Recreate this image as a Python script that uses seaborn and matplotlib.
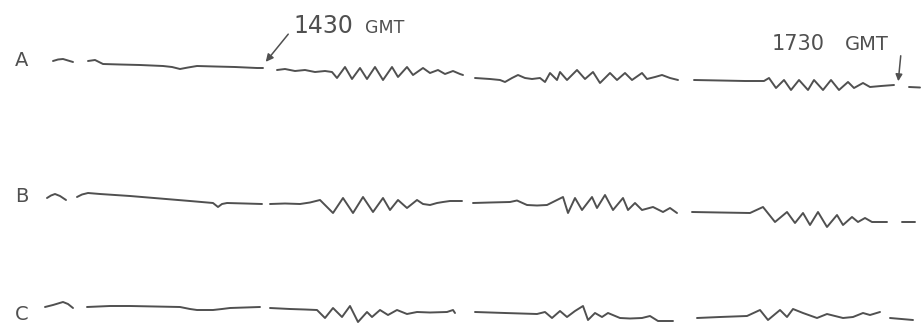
import numpy as np
import pandas as pd
import matplotlib
matplotlib.use("Agg")
import matplotlib.pyplot as plt
import seaborn as sns

nan = np.nan

# hand traced record, x = position along the record, y = pen position (down is positive)
trace_labels = ["A", "B", "C"]

trace_a_x = [53, 58, 63, 68, 73, nan,
             88, 95, 103, 120, 140, 163, 172, 180, 188, 197, 215, 235, 257, 263, nan,
             277, 285, 295, 305, 315, 325, 332, 337, 345, 352, 360, 367, 375, 383, 392, 398, 407,
             413, 423, 430, 438, 445, 453, 460, 463, nan,
             475, 490, 500, 505, 512, 518, 525, 532, 540, 545, 550, 557, 560, 567, 577, 585, 593,
             600, 610, 617, 625, 632, 642, 647, 655, 662, 670, 678, nan,
             694, 720, 745, 764, 769, 776, 784, 791, 799, 808, 814, 823, 831, 839, 848, 854, 863,
             870, 881, 894, nan,
             909, 920]
trace_a_y = [61, 59.5, 59, 60.5, 62, nan,
             61, 60, 64, 64.5, 65, 66, 67, 69, 67.5, 66, 66.5, 67, 68, 68, nan,
             70, 69, 71, 70, 72, 71, 72, 78, 67, 79, 68, 79, 67, 80, 67, 77, 67,
             75, 68, 73, 70, 74, 71, 74, 75, nan,
             78, 79, 80, 82, 78, 75, 78, 79, 78, 82, 73, 80, 72, 80, 70, 79, 72,
             83, 73, 80, 73, 80, 73, 79, 77, 75, 78, 80, nan,
             80, 80.5, 81, 81, 78, 88, 80, 90, 80, 90, 80, 90, 80, 90, 82, 88, 83,
             87, 86, 85, nan,
             87, 87.5]

trace_b_x = [47, 51, 55, 60, 66, nan,
             77, 82, 88, 100, 130, 160, 190, 213, 218, 222, 227, 245, 262, nan,
             270, 285, 300, 310, 320, 333, 343, 353, 363, 373, 383, 390, 398, 407, 417, 423, 430,
             437, 443, 450, 462, nan,
             473, 490, 510, 517, 527, 537, 547, 557, 563, 568, 575, 582, 592, 597, 605, 613, 623,
             628, 635, 642, 653, 663, 670, 677, nan,
             692, 720, 750, 763, 775, 787, 795, 803, 810, 818, 827, 837, 843, 852, 858, 865, 872,
             887, nan,
             902, 915]
trace_b_y = [198, 195.5, 194, 196, 200, nan,
             197, 194.5, 193, 194, 196, 198.5, 201, 203, 207, 204, 203, 203.5, 204, nan,
             204, 203.5, 204, 202.5, 200, 213, 198, 213, 197, 212, 198, 210, 200, 208, 200, 204, 205,
             203, 202, 201, 201, nan,
             203, 202.5, 202, 200.5, 205, 205.5, 205, 200, 197, 213, 198, 210, 197, 208, 195, 210, 198,
             210, 203, 210, 207, 212, 208, 213, nan,
             212, 212.5, 213, 207, 222, 212, 223, 213, 225, 212, 227, 215, 225, 217, 222, 218, 222,
             222, nan,
             222, 222]

trace_c_x = [45, 53, 63, 68, 73, nan,
             87, 110, 130, 155, 180, 190, 197, 213, 222, 230, 245, 260, nan,
             270, 280, 290, 305, 317, 325, 333, 342, 350, 358, 367, 372, 380, 388, 397, 407, 417,
             430, 447, 453, 455, nan,
             475, 505, 537, 545, 552, 560, 567, 575, 583, 588, 595, 602, 608, 620, 630, 642, 650,
             658, 673, nan,
             697, 720, 747, 760, 768, 780, 787, 793, 803, 817, 827, 843, 853, 863, 870, 880, nan,
             890, 913]
trace_c_y = [307, 305, 302, 304, 308, nan,
             307, 306, 306, 306.5, 307, 309, 310, 310, 309, 308, 307.5, 307, nan,
             308, 308.5, 309, 309.5, 310, 318, 308, 317, 306, 322, 312, 317, 310, 315, 310, 314, 312,
             312.5, 312, 310, 313, nan,
             312, 313, 314, 312, 318, 311, 317, 311, 306, 320, 313, 317, 313, 318, 318.5, 318, 316,
             321, 321, nan,
             318, 317, 316, 310, 320, 310, 317, 309, 313, 318, 314, 318, 317, 313, 315, 312, nan,
             318, 320]

ink = "#505050"


def trace_frame(name, xs, ys):
    df = pd.DataFrame({"x": xs, "y": ys})
    df["piece"] = name + df["y"].isna().cumsum().astype(str)
    return df.dropna()


record = pd.concat([
    trace_frame("A", trace_a_x, trace_a_y),
    trace_frame("B", trace_b_x, trace_b_y),
    trace_frame("C", trace_c_x, trace_c_y),
], ignore_index=True)

sns.set_theme(style="white")
plt.rcParams["font.family"] = ["DejaVu Sans"]

fig = plt.figure(figsize=(9.21, 3.23), dpi=100)
ax = fig.add_axes([0, 0, 1, 1])
sns.lineplot(data=record, x="x", y="y", units="piece", estimator=None, sort=False,
             color=ink, linewidth=1.4, ax=ax)

# row letters
for label, ypos in zip(trace_labels, [61, 197, 314]):
    ax.text(22, ypos, label, ha="center", va="center", fontsize=14, color=ink)

# time marks
ax.text(293, 33, "1430", ha="left", va="baseline", fontsize=17, color=ink)
ax.text(365, 33, "GMT", ha="left", va="baseline", fontsize=12.5, color=ink)
ax.annotate("", xy=(264, 64), xytext=(290, 32),
            arrowprops=dict(arrowstyle="-|>", color=ink, lw=1.1, mutation_scale=11))

ax.text(772, 50, "1730", ha="left", va="baseline", fontsize=15, color=ink)
ax.text(845, 50, "GMT", ha="left", va="baseline", fontsize=14, color=ink)
ax.annotate("", xy=(898, 84), xytext=(901, 53),
            arrowprops=dict(arrowstyle="-|>", color=ink, lw=1.1, mutation_scale=10))

ax.set_xlim(0, 921)
ax.set_ylim(323, 0)
ax.axis("off")

fig.savefig("out.png", dpi=100)
